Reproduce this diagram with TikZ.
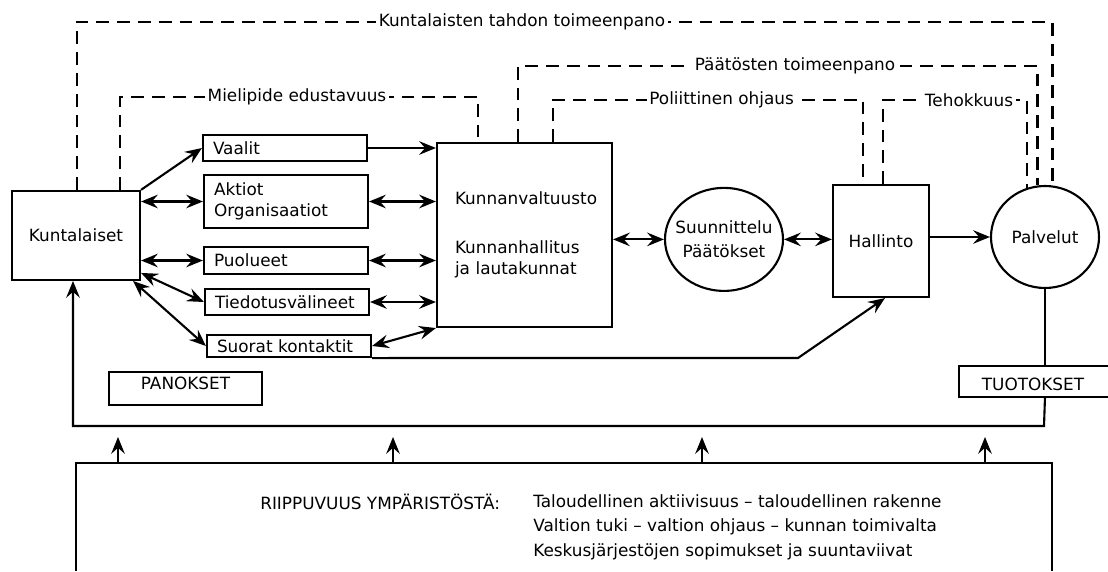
\documentclass[tikz,border=0pt]{standalone}
\usepackage{fontspec}
\setmainfont{DejaVu Sans}
\usepackage{tikz}
\usetikzlibrary{arrows.meta,shapes.geometric}

\begin{document}
\begin{tikzpicture}[
  >={Stealth[length=4.2mm,width=3.4mm,inset=1.5mm]},
  every node/.style={font=\fontsize{12}{15}\selectfont},
  laatikko/.style={draw,line width=1.5pt,inner sep=0pt},
  kanava/.style={laatikko,text width=3.6cm,inner xsep=0.25cm,align=left,minimum height=0.65cm},
  nuoli/.style={->,line width=1.5pt},
  kaksi/.style={<->,line width=1.5pt},
  kulku/.style={line width=1.8pt,dash pattern=on 3.2mm off 2mm},
  viesti/.style={fill=white,inner xsep=2pt,inner ysep=1pt}
]
  \useasboundingbox (0,0) rectangle (27.70,14.275);

  % kuntalaiset ja kanavat
  \node[laatikko,minimum width=3.2cm,minimum height=2.225cm] (kunta) at (1.90,8.39) {Kuntalaiset};
  \node[kanava] (vaalit) at (7.125,10.575) {Vaalit};
  \node[kanava,minimum height=1.325cm] (aktiot) at (7.15,9.2375) {Aktiot\\Organisaatiot};
  \node[kanava,minimum height=0.675cm] (puolueet) at (7.15,7.7625) {Puolueet};
  \node[kanava] (tiedotus) at (7.175,6.725) {Tiedotusvälineet};
  \node[kanava,minimum height=0.55cm] (suorat) at (7.225,5.625) {Suorat kontaktit};

  % paattajat
  \node[laatikko,text width=3.475cm,inner xsep=0.45cm,align=left,minimum height=4.6cm] (kv) at (13.1125,8.40)
    {Kunnanvaltuusto\\[20pt]Kunnanhallitus\\ja lautakunnat};
  \node[laatikko,ellipse,minimum width=2.95cm,minimum height=2.575cm] (suun) at (18.10,8.29) {};
  \node[align=center] (suuntxt) at (suun) {Suunnittelu\\[2pt]Päätökset};
  \node[laatikko,minimum width=2.4cm,minimum height=2.8cm] (hall) at (22.025,8.25) {Hallinto};
  \node[laatikko,ellipse,minimum width=2.7cm,minimum height=2.55cm] (palv) at (26.125,8.35) {Palvelut};

  \node[laatikko,minimum width=3.825cm,minimum height=0.825cm,text depth=0.28cm] (panos) at (4.6375,4.5625) {PANOKSET};
  \node (tuot) at (25.825,4.675) {TUOTOKSET};
  \draw[line width=1.5pt] (27.70,5.125) -| (23.975,4.35) -- (27.70,4.35);

  % yhteydet
  \draw[nuoli] (kunta.north east) -- (vaalit.west);
  \draw[kaksi] (kunta.east |- aktiot.west) -- (aktiot.west);
  \draw[kaksi] (kunta.east |- puolueet.west) -- (puolueet.west);
  \draw[kaksi] ([yshift=0.2cm]kunta.south east) -- (tiedotus.west);
  \draw[kaksi] ([xshift=-0.2cm]kunta.south east) -- (suorat.west);
  \draw[nuoli] (vaalit.east) -- (vaalit.east -| kv.west);
  \draw[kaksi] (aktiot.east) -- (aktiot.east -| kv.west);
  \draw[kaksi] (puolueet.east) -- (puolueet.east -| kv.west);
  \draw[kaksi] (tiedotus.east) -- (tiedotus.east -| kv.west);
  \draw[kaksi] (suorat.east) -- (kv.south west);
  \draw[kaksi] (kv.east |- suun.west) -- (suun.west);
  \draw[kaksi] (suun.east) -- (suun.east -| hall.west);
  \draw[nuoli] (hall.east |- palv.west) -- (palv.west);
  \coordinate (polvi) at (19.95,5.325);
  \draw[nuoli] (suorat.south east) -- (polvi) -- ([xshift=0.1cm]hall.south);

  % palaute
  \draw[line width=1.5pt] (palv.south) -- (palv.south |- 0,5.125);
  \coordinate (paluuO) at (26.10,3.625);
  \coordinate (paluuV) at (1.825,3.625);
  \draw[nuoli] (palv.south |- 0,4.35) -- (paluuO) -- (paluuV) -- (paluuV |- kunta.south);

  % katkoviivat
  \draw[kulku] (kunta.north -| 1.925,0) -- (1.925,13.725) -| (palv.82);
  \draw[kulku] (kunta.north -| 3.00,0) -- (3.00,11.85) -| (kv.north -| 11.95,0);
  \draw[kulku] (kv.north -| 12.95,0) -- (12.95,12.625) -| (palv.98);
  \draw[kulku] (kv.north -| 13.825,0) -- (13.825,11.775) -| (hall.north -| 21.575,0);
  \draw[kulku] (hall.north -| 22.075,0) -- (22.075,11.775) -| (palv.110);
  \node[viesti] (tahto) at (13.05,13.725) {Kuntalaisten tahdon toimeenpano};
  \node[viesti] (mieli) at (7.425,11.85) {Mielipide edustavuus};
  \node[viesti] (paatos) at (19.875,12.625) {Päätösten toimeenpano};
  \node[viesti] (ohjaus) at (18.04,11.775) {Poliittinen ohjaus};
  \node[viesti] (teho) at (24.225,11.775) {Tehokkuus};

  % ymparisto
  \draw[line width=1.6pt] (1.90,0) |- (26.30,2.70) -- (26.30,0);
  \foreach \x in {2.95,9.825,17.55,24.625}
    \draw[nuoli] (\x,2.70) -- (\x,3.35);
  \node[anchor=north west,inner sep=0pt] (riippu) at (6.50,1.925) {RIIPPUVUUS YMPÄRISTÖSTÄ:};
  \node[anchor=north west,inner sep=0pt,align=left,font=\fontsize{12}{17.4}\selectfont] (tekijat) at (13.325,1.925)
    {Taloudellinen aktiivisuus -- taloudellinen rakenne\\
     Valtion tuki -- valtion ohjaus -- kunnan toimivalta\\
     Keskusjärjestöjen sopimukset ja suuntaviivat};
\end{tikzpicture}
\end{document}
